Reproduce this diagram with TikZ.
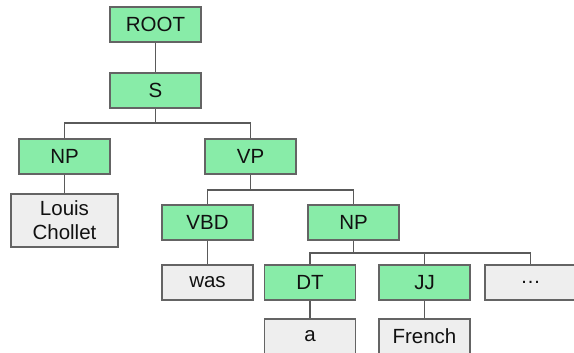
\documentclass[tikz,border=0pt]{standalone}
\usepackage{fontspec}
\setmainfont{Liberation Sans}
\definecolor{tagfill}{RGB}{136,236,168}
\definecolor{wordfill}{RGB}{238,238,238}
\definecolor{boxline}{RGB}{100,100,100}
\definecolor{linkc}{RGB}{90,90,90}
\definecolor{txt}{RGB}{17,17,17}
\begin{document}
\begin{tikzpicture}[x=1pt,y=-1pt,
  box/.style={draw=boxline, line width=1.2pt, minimum width=91pt, minimum height=35pt,
    inner sep=0pt, font=\fontsize{20.5}{24}\selectfont, text=txt, align=center},
  tag/.style={box, fill=tagfill},
  word/.style={box, fill=wordfill},
  link/.style={draw=linkc, line width=1.2pt}]
\useasboundingbox (0,0) rectangle (574,353);
\clip (0,0) rectangle (574,353);

% branch levels of the tree
\coordinate (br1) at (0,123);
\coordinate (br2) at (0,190);
\coordinate (br3) at (0,253);

% nodes
\node[tag] (root) at (155.5,24.5) {ROOT};
\node[tag] (s) at (155.5,90.5) {S};
\node[tag] (np1) at (64.5,156.5) {NP};
\node[tag] (vp) at (250.5,156.5) {VP};
\node[word, minimum width=107pt, minimum height=53pt] (lc) at (64.5,220.5) {Louis\\Chollet};
\node[tag] (vbd) at (207.5,222.5) {VBD};
\node[tag] (np2) at (353.5,222.5) {NP};
\node[word] (was) at (207.5,282.5) {was};
\node[tag] (dt) at (310,282.5) {DT};
\node[tag] (jj) at (424.5,282.5) {JJ};
\node[word] (more) at (530.5,282.5) {\dots};
\node[word] (a) at (310,336.5) {a};
\node[word] (french) at (424.5,336.5) {French};

% connectors between nodes
\draw[link] (root) -- (s);
\draw[link] (s.south) -- (s.south |- br1) -| (np1.north);
\draw[link] (s.south |- br1) -| (vp.north);
\draw[link] (np1) -- (lc);
\draw[link] (vp.south) -- (vp.south |- br2) -| (vbd.north);
\draw[link] (vp.south |- br2) -| (np2.north);
\draw[link] (vbd) -- (was);
\draw[link] (np2.south) -- (np2.south |- br3) -| (dt.north);
\draw[link] (np2.south |- br3) -| (jj.north);
\draw[link] (np2.south |- br3) -| (more.north);
\draw[link] (dt) -- (a);
\draw[link] (jj) -- (french);
\end{tikzpicture}
\end{document}
